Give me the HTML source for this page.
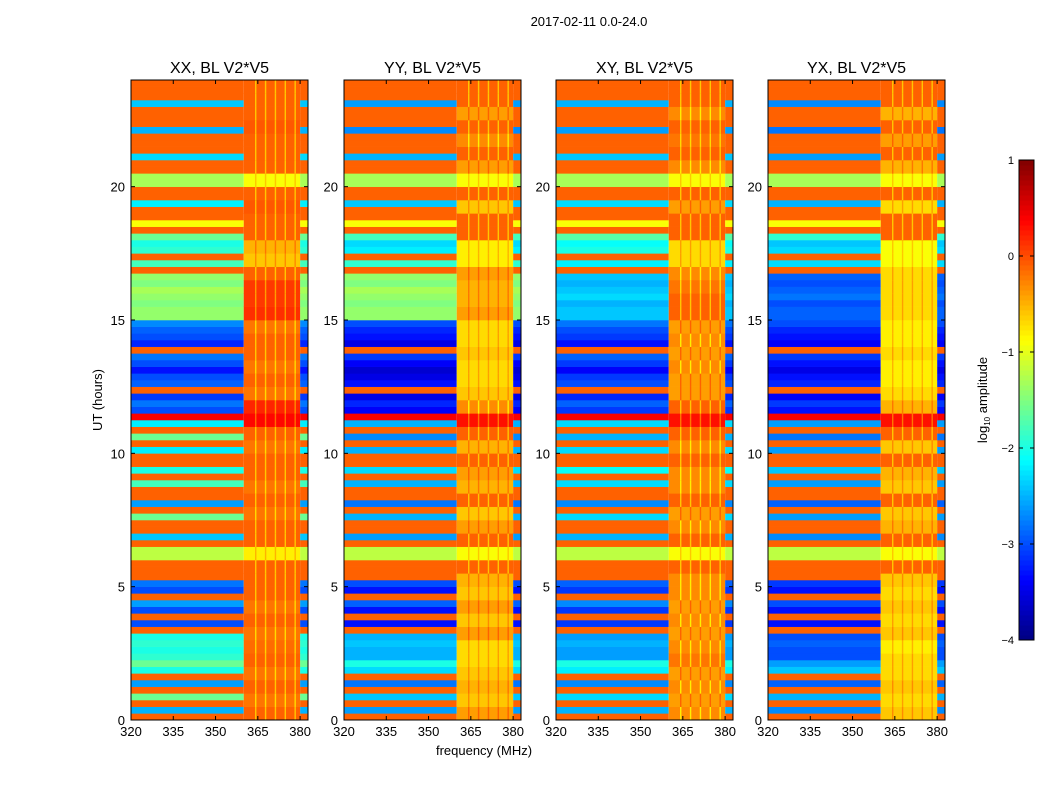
<!DOCTYPE html>
<html><head><meta charset="utf-8"><style>
body{margin:0;background:#fff;font-family:"Liberation Sans",sans-serif}
svg text{font-family:"Liberation Sans",sans-serif}
</style></head><body>
<svg id="fig" width="1050" height="800" viewBox="0 0 1050 800" xmlns="http://www.w3.org/2000/svg">
<rect width="1050" height="800" fill="#fff"/>
<text x="589" y="26" font-size="13" text-anchor="middle">2017-02-11 0.0-24.0</text>
<text x="484" y="755" font-size="13" text-anchor="middle">frequency (MHz)</text>
<text transform="translate(102,400) rotate(-90)" font-size="13" text-anchor="middle">UT (hours)</text>
<text transform="translate(987,400) rotate(-90)" font-size="13" text-anchor="middle">log<tspan font-size="8" dy="3">10</tspan><tspan dy="-3"> amplitude</tspan></text>
</svg>
<script>
const panelTitles=["XX, BL V2*V5","YY, BL V2*V5","XY, BL V2*V5","YX, BL V2*V5"];
const xTicks=[320,335,350,365,380];
const yTicks=[0,5,10,15,20];
const cbTicks=[1,0,-1,-2,-3,-4];
const stripeFreqs=[364,367.5,371,374.5,378];
// left-band log amplitude per 0.25 h row (0h upward)
const leftXX=[-0.1,-2.5,-0.1,-1.6,-0.1,-2.6,-0.1,-2.0,-1.6, -1.9,-2.0,-1.9,-2.0, -0.1, -3,-0.1,-3,-2.6,-0.1,-3,-2.8,-0.1, -0.1,-0.1, -1.2,-1.2, -0.1,-2.4,-0.1,-0.1,-1.6,-0.1,-2.6,-0.1,-0.1,-1.8, -0.1,-2.0,-0.1,-0.1,-2.2,-0.1,-1.6,-0.1,-2.2, 0.4, -3,-2.8,-3.1,-0.1,-2.9,-3,-3.3,-3,-2.8,-0.1,-3.2,-3,-2.9,-2.7, -1.4,-1.4,-1.5,-1.4,-1.3,-1.5,-1.4, -0.1,-1.8,-0.1, -1.9,-2.0,-1.6, -0.1,-0.9, -0.1,-0.1,-2.2,-0.1,-0.1, -1.3,-1.3, -0.1,-0.1,-2.3,-0.1,-0.1,-0.1,-2.5,-0.1,-0.1,-0.1,-2.4,-0.1,-0.1,-0.1];
const leftYY=[-0.1,-2.6,-0.1,-2.4,-0.1,-2.8,-0.1,-2.3,-2.0, -2.5,-2.5,-2.4,-2.5, -0.1, -3.3,-0.1,-3.3,-2.9,-0.1,-3.3,-3.0,-0.1, -0.1,-0.1, -1.2,-1.2, -0.1,-2.6,-0.1,-0.1,-2.5,-0.1,-2.8,-0.1,-0.1,-2.5, -0.1,-2.3,-0.1,-0.1,-2.5,-0.1,-2.7,-0.1,-2.5, 0.4, -3.4,-3.2,-3.5,-0.1,-3.3,-3.5,-3.6,-3.4,-3.1,-0.1,-3.5,-3.3,-3.2,-3.0, -1.4,-1.4,-1.5,-1.4,-1.3,-1.5,-1.4, -0.1,-1.9,-0.1, -2.2,-2.3,-1.8, -0.1,-0.9, -0.1,-0.1,-2.4,-0.1,-0.1, -1.3,-1.3, -0.1,-0.1,-2.5,-0.1,-0.1,-0.1,-2.7,-0.1,-0.1,-0.1,-2.6,-0.1,-0.1,-0.1];
const leftXY=[-0.1,-2.5,-0.1,-2.3,-0.1,-2.7,-0.1,-2.2,-2.0, -2.6,-2.6,-2.5,-2.6, -0.1, -3.1,-0.1,-3.1,-2.7,-0.1,-3.1,-2.9,-0.1, -0.1,-0.1, -1.2,-1.2, -0.1,-2.5,-0.1,-0.1,-2.3,-0.1,-2.7,-0.1,-0.1,-2.3, -0.1,-2.1,-0.1,-0.1,-2.3,-0.1,-2.5,-0.1,-2.3, 0.4, -3.1,-2.9,-3.2,-0.1,-3.0,-3.1,-3.4,-3.1,-2.9,-0.1,-3.3,-3.1,-3.0,-2.8, -2.4,-2.4,-2.5,-2.3,-2.4,-2.5,-2.4, -0.1,-2.2,-0.1, -2.0,-2.1,-1.7, -0.1,-0.9, -0.1,-0.1,-2.3,-0.1,-0.1, -1.3,-1.3, -0.1,-0.1,-2.4,-0.1,-0.1,-0.1,-2.6,-0.1,-0.1,-0.1,-2.5,-0.1,-0.1,-0.1];
const leftYX=[-0.1,-2.7,-0.1,-2.5,-0.1,-2.9,-0.1,-2.4,-2.6, -3.0,-3.0,-2.9,-3.0, -0.1, -3.3,-0.1,-3.3,-3.0,-0.1,-3.3,-3.1,-0.1, -0.1,-0.1, -1.2,-1.2, -0.1,-2.7,-0.1,-0.1,-2.6,-0.1,-2.9,-0.1,-0.1,-2.6, -0.1,-2.4,-0.1,-0.1,-2.6,-0.1,-2.8,-0.1,-2.6, 0.4, -3.3,-3.1,-3.4,-0.1,-3.2,-3.3,-3.5,-3.3,-3.1,-0.1,-3.4,-3.3,-3.2,-3.0, -2.9,-2.9,-3.0,-2.8,-2.9,-3.0,-2.9, -0.1,-2.3,-0.1, -2.3,-2.4,-1.9, -0.1,-0.9, -0.1,-0.1,-2.5,-0.1,-0.1, -1.3,-1.3, -0.1,-0.1,-2.6,-0.1,-0.1,-0.1,-2.8,-0.1,-0.1,-0.1,-2.7,-0.1,-0.1,-0.1];
// mid band (360-380 MHz) log amplitude per 0.5 h row
const midXX=[-0.1,-0.2,-0.1,-0.2,-0.1,-0.15,-0.2,-0.1,-0.2,-0.1,-0.1,-0.1,-0.8,-0.1,-0.1,-0.2,-0.1,-0.2,-0.1,-0.1,-0.2,-0.1,0.35,0.2,-0.2,-0.1,-0.2,-0.1,-0.1,-0.2,0.15,0.1,0.1,-0.1,-0.6,-0.5,-0.1,-0.1,-0.05,-0.1,-0.9,-0.1,-0.1,-0.1,-0.05,-0.1,-0.1,-0.1];
const midYY=[-0.4,-0.6,-0.5,-0.6,-0.7,-0.7,-0.4,-0.6,-0.4,-0.6,-0.5,-0.1,-0.9,-0.1,-0.4,-0.6,-0.1,-0.5,-0.4,-0.1,-0.5,-0.1,0.3,-0.3,-0.6,-0.7,-0.7,-0.6,-0.7,-0.7,-0.4,-0.5,-0.5,-0.4,-0.8,-0.8,-0.1,-0.1,-0.6,-0.1,-0.9,-0.4,-0.1,-0.3,-0.1,-0.4,-0.1,-0.1];
const midXY=[-0.3,-0.4,-0.3,-0.4,-0.2,-0.3,-0.4,-0.3,-0.4,-0.3,-0.3,-0.1,-0.9,-0.1,-0.3,-0.4,-0.1,-0.3,-0.3,-0.1,-0.3,-0.1,0.3,-0.1,-0.4,-0.4,-0.3,-0.4,-0.3,-0.4,-0.1,-0.1,-0.2,-0.3,-0.7,-0.7,-0.1,-0.1,-0.4,-0.1,-0.9,-0.3,-0.1,-0.2,-0.1,-0.3,-0.1,-0.1];
const midYX=[-0.6,-0.7,-0.6,-0.7,-0.7,-0.8,-0.6,-0.7,-0.6,-0.7,-0.6,-0.1,-0.9,-0.1,-0.5,-0.6,-0.1,-0.6,-0.5,-0.1,-0.6,-0.1,0.3,-0.5,-0.7,-0.8,-0.8,-0.7,-0.8,-0.8,-0.7,-0.7,-0.7,-0.7,-0.9,-0.9,-0.1,-0.1,-0.7,-0.1,-0.9,-0.5,-0.1,-0.4,-0.1,-0.5,-0.1,-0.1];
const leftSets=[leftXX,leftYY,leftXY,leftYX];
const midSets=[midXX,midYY,midXY,midYX];
const panelLeft=[131,344,556,768];
const NS="http://www.w3.org/2000/svg";
const svg=document.getElementById('fig');
const W=177,T=80,B=720,F0=320,F1=382.8,H0=0,H1=24,VMIN=-4,VMAX=1;
function jet(v){let t=(v-VMIN)/(VMAX-VMIN);t=Math.max(0,Math.min(1,t));
 const c=x=>Math.round(255*Math.max(0,Math.min(1,1.5-Math.abs(4*t-x))));
 return `rgb(${c(3)},${c(2)},${c(1)})`;}
function mk(tag,attrs,parent){const e=document.createElementNS(NS,tag);for(const k in attrs)e.setAttribute(k,attrs[k]);(parent||svg).appendChild(e);return e;}
function yScale(h){return B-(h-H0)/(H1-H0)*(B-T);}
panelTitles.forEach((title,p)=>{
 const x0=panelLeft[p];
 const xs=f=>x0+(f-F0)/(F1-F0)*W;
 const g=mk('g',{});
 
 
 const L=leftSets[p],M=midSets[p];
 L.forEach((v,i)=>{
  const ya=yScale((i+1)*24/L.length),yb=yScale(i*24/L.length);
  const r1=mk('rect',{x:xs(320),y:ya,width:xs(360)-xs(320),height:yb-ya+0.3,fill:jet(v)},g);
  
  
  const r2=mk('rect',{x:xs(380),y:ya,width:xs(F1)-xs(380),height:yb-ya+0.3,fill:jet(v)},g);
  
  
 });
 M.forEach((v,i)=>{
  const ya=yScale((i+1)*24/M.length),yb=yScale(i*24/M.length);
  const r=mk('rect',{x:xs(360),y:ya,width:xs(380)-xs(360),height:yb-ya+0.3,fill:jet(v)},g);
  
  
  stripeFreqs.forEach(f=>{
   const s=mk('rect',{x:xs(f),y:ya,width:xs(f+0.5)-xs(f),height:yb-ya+0.3,fill:jet(v<-0.3?v+0.3:v-0.5)},g);
   
   
  });
 });
 const fr=mk('rect',{x:x0,y:T,width:W,height:B-T,fill:'none',stroke:'#000','stroke-width':1},g);
 
 
 const tt=mk('text',{x:x0+W/2,y:T-7,'font-size':16,'text-anchor':'middle'},g);tt.textContent=title;
 
 
 xTicks.forEach(f=>{const x=xs(f);
  mk('line',{x1:x,x2:x,y1:B,y2:B-4,stroke:'#000'},g);mk('line',{x1:x,x2:x,y1:T,y2:T+4,stroke:'#000'},g);
  const t=mk('text',{x:x,y:B+16,'font-size':13,'text-anchor':'middle'},g);t.textContent=f;
  
  
 });
 yTicks.forEach(h=>{const y=yScale(h);
  mk('line',{x1:x0,x2:x0+4,y1:y,y2:y,stroke:'#000'},g);mk('line',{x1:x0+W,x2:x0+W-4,y1:y,y2:y,stroke:'#000'},g);
  const t=mk('text',{x:x0-6,y:y+5,'font-size':13,'text-anchor':'end'},g);t.textContent=h;
  
  
 });
});
// colorbar
const cb=mk('g',{});


const CX=1019,CW=15,CT=160,CB=640;
const cy=v=>CB-(v-VMIN)/(VMAX-VMIN)*(CB-CT);
for(let i=0;i<96;i++){const v0=VMIN+i*(VMAX-VMIN)/96,v1=VMIN+(i+1)*(VMAX-VMIN)/96;
 mk('rect',{x:CX,y:cy(v1),width:CW,height:cy(v0)-cy(v1)+0.5,fill:jet((v0+v1)/2)},cb);}
mk('rect',{x:CX,y:CT,width:CW,height:CB-CT,fill:'none',stroke:'#000'},cb);
cbTicks.forEach(v=>{const y=cy(v);
 mk('line',{x1:CX,x2:CX+4,y1:y,y2:y,stroke:'#000'},cb);mk('line',{x1:CX+CW,x2:CX+CW-4,y1:y,y2:y,stroke:'#000'},cb);
 const t=mk('text',{x:CX-5,y:y+4,'font-size':11,'text-anchor':'end'},cb);t.textContent=v<0?'\u2212'+(-v):v;
 
 
});
</script>
</body></html>
